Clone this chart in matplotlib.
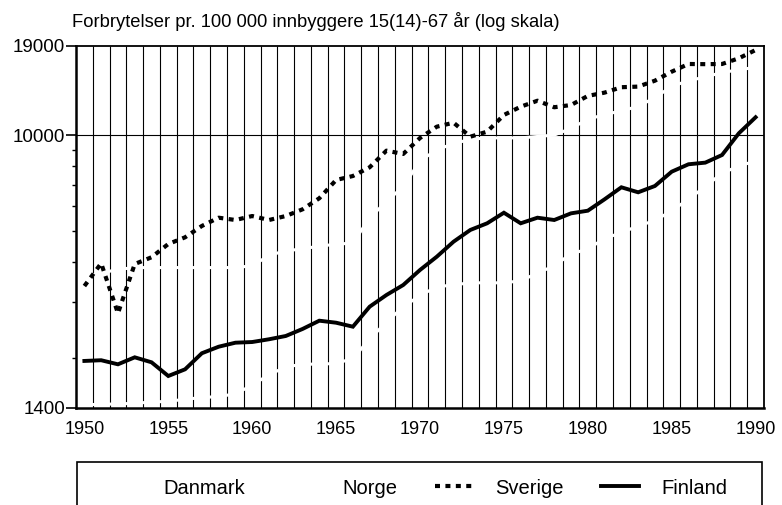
import numpy as np
import matplotlib
matplotlib.use("Agg")
import matplotlib.pyplot as plt
from matplotlib.lines import Line2D
from matplotlib.patches import Rectangle
from matplotlib.ticker import FixedLocator, NullFormatter

plt.rcParams['font.family'] = ['Liberation Sans', 'DejaVu Sans']

years = list(range(1950, 1991))

# crimes per 100 000 inhabitants 15(14)-67 years
finland = [1965, 1975, 1918, 2017, 1946, 1763, 1850, 2077, 2177, 2241,
           2252, 2297, 2352, 2474, 2626, 2588, 2515, 2905, 3160, 3396,
           3784, 4164, 4640, 5049, 5297, 5716, 5297, 5515, 5424, 5691,
           5800, 6297, 6866, 6622, 6931, 7683, 8104, 8200, 8664, 10130,
           11370]
sverige = [3371, 3970, 2770, 3950, 4147, 4563, 4788, 5196, 5515, 5424,
           5582, 5424, 5582, 5858, 6344, 7237, 7447, 7930, 8939, 8729,
           9793, 10624, 10934, 9886, 10250, 11560, 12270, 12810, 12220, 12420,
           13260, 13580, 14120, 14180, 14800, 15790, 16690, 16670, 16690, 17390,
           18460]
# Danmark and Norge are printed in white in the original (only seen as gaps)
danmark = [3600, 3700, 3800, 3850, 3850, 3850, 3850, 3850, 3850, 3850,
           3900, 4200, 4350, 4400, 4500, 4550, 4600, 5500, 6200, 6900,
           8300, 9000, 9400, 9700, 9800, 9800, 9800, 9900, 10000, 10500,
           11200, 11600, 11900, 12300, 13100, 14200, 14800, 15200, 15700, 16000,
           16300]
norge = [1430, 1440, 1440, 1450, 1460, 1470, 1490, 1510, 1520, 1550,
         1650, 1780, 1880, 1920, 1920, 1930, 2000, 2300, 2600, 2900,
         3150, 3350, 3400, 3450, 3450, 3450, 3500, 3700, 3900, 4250,
         4400, 4750, 4950, 5200, 5400, 5800, 6300, 6900, 7600, 8000,
         8300]

major_y = [1400, 10000, 19000]
minor_y = [2000, 3000, 4000, 5000, 6000, 7000, 8000, 9000]
x_labels = list(range(1950, 1991, 5))

fig = plt.figure(figsize=(7.82, 5.05), dpi=100)
ax = fig.add_axes([76/782, 1-408/505, (764-76)/782, (408-46)/505])

ax.set_yscale('log')
ax.set_ylim(1400, 19000)
ax.set_xlim(1949.5, 1990.5)

# year grid: one column per year
ax.vlines(np.arange(1950.5, 1990, 1), 1400, 19000, colors='black', lw=0.8, zorder=1)
ax.axhline(10000, color='black', lw=0.8, zorder=1)

ax.plot(years, danmark, color='white', lw=2.2, zorder=2)
ax.plot(years, norge, color='white', lw=2.2, zorder=2)
ax.plot(years, sverige, color='black', lw=3, linestyle=(0, (1.2, 1.3)),
        dash_capstyle='butt', zorder=3)
ax.plot(years, finland, color='black', lw=2.8, solid_joinstyle='miter', zorder=3)

ax.yaxis.set_major_locator(FixedLocator(major_y))
ax.yaxis.set_minor_locator(FixedLocator(minor_y))
ax.yaxis.set_major_formatter(plt.FuncFormatter(lambda v, p: f"{v:.0f}"))
ax.yaxis.set_minor_formatter(NullFormatter())
ax.tick_params(axis='y', which='major', length=7, width=1.2, pad=1, labelsize=13.5)
ax.tick_params(axis='y', which='minor', length=3, width=1)

ax.set_xticks(x_labels)
ax.set_xticklabels([str(y) for y in x_labels])
ax.tick_params(axis='x', length=0, pad=9, labelsize=13)

for side in ['left', 'bottom']:
    ax.spines[side].set_linewidth(1.8)
for side in ['top', 'right']:
    ax.spines[side].set_linewidth(1.3)

fig.text(72/782, 1-27/505, "Forbrytelser pr. 100 000 innbyggere 15(14)-67 år (log skala)",
         fontsize=13.2, va='baseline', ha='left')

# legend box, cut off at the bottom of the picture
fig.patches.append(Rectangle((77/782, -0.05), (762-77)/782, 1-462/505+0.05,
                             transform=fig.transFigure, fill=False, lw=1.2,
                             edgecolor='black'))
handles = [Line2D([], [], color='white', lw=2.2),
           Line2D([], [], color='white', lw=2.2),
           Line2D([], [], color='black', lw=3, linestyle=(0, (1.2, 1.3)),
                  dash_capstyle='butt'),
           Line2D([], [], color='black', lw=2.8)]
fig.legend(handles, ['Danmark', 'Norge', 'Sverige', 'Finland'],
           loc='center', bbox_to_anchor=(415/782, 1-488/505), ncol=4,
           frameon=False, fontsize=14.5, handlelength=1.9, handletextpad=1.1,
           columnspacing=1.85)

fig.savefig('out.png', dpi=100)
